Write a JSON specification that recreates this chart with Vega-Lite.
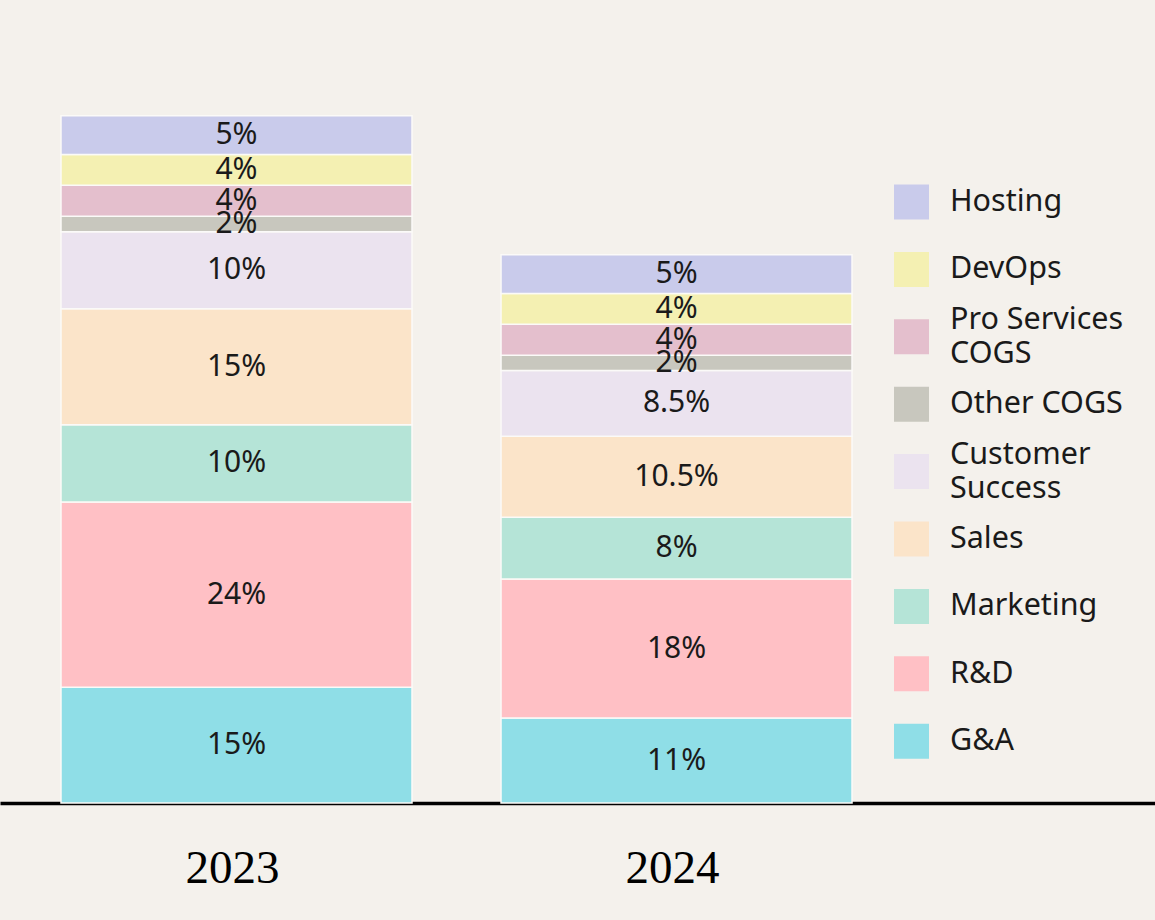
{
  "$schema": "https://vega.github.io/schema/vega-lite/v6.json",
  "width": 1155,
  "height": 803,
  "padding": {"left": 0, "top": 0, "right": 0, "bottom": 117},
  "autosize": {"type": "none"},
  "background": "#f4f1ec",
  "config": {"view": {"stroke": null}},
  "data": {"values": [
    {"year": "2023", "category": "G&A", "value": 0.15, "pos": 1},
    {"year": "2023", "category": "R&D", "value": 0.24, "pos": 2},
    {"year": "2023", "category": "Marketing", "value": 0.10, "pos": 3},
    {"year": "2023", "category": "Sales", "value": 0.15, "pos": 4},
    {"year": "2023", "category": "Customer Success", "value": 0.10, "pos": 5},
    {"year": "2023", "category": "Other COGS", "value": 0.02, "pos": 6},
    {"year": "2023", "category": "Pro Services COGS", "value": 0.04, "pos": 7},
    {"year": "2023", "category": "DevOps", "value": 0.04, "pos": 8},
    {"year": "2023", "category": "Hosting", "value": 0.05, "pos": 9},
    {"year": "2024", "category": "G&A", "value": 0.11, "pos": 1},
    {"year": "2024", "category": "R&D", "value": 0.18, "pos": 2},
    {"year": "2024", "category": "Marketing", "value": 0.08, "pos": 3},
    {"year": "2024", "category": "Sales", "value": 0.105, "pos": 4},
    {"year": "2024", "category": "Customer Success", "value": 0.085, "pos": 5},
    {"year": "2024", "category": "Other COGS", "value": 0.02, "pos": 6},
    {"year": "2024", "category": "Pro Services COGS", "value": 0.04, "pos": 7},
    {"year": "2024", "category": "DevOps", "value": 0.04, "pos": 8},
    {"year": "2024", "category": "Hosting", "value": 0.05, "pos": 9}
  ]},
  "encoding": {
    "x": {
      "field": "year", "type": "nominal", "title": null,
      "scale": {"paddingInner": 0.2023, "paddingOuter": 0.4136, "align": 0.1676},
      "axis": {
        "orient": "bottom", "ticks": false, "grid": false,
        "domainColor": "#000000", "domainWidth": 3.5,
        "labelFont": "Liberation Serif", "labelFontSize": 47, "labelColor": "#000000",
        "labelAngle": 0, "labelPadding": 42, "labelOffset": -4
      }
    },
    "y": {
      "field": "value", "type": "quantitative", "stack": "zero",
      "scale": {"domain": [0, 1.04], "nice": false, "zero": true},
      "axis": null
    },
    "order": {"field": "pos", "sort": "ascending"}
  },
  "layer": [
    {
      "mark": {"type": "bar", "stroke": "#fbfaf8", "strokeWidth": 1.5},
      "encoding": {
        "color": {
          "field": "category", "type": "nominal", "title": null,
          "scale": {
            "domain": ["Hosting", "DevOps", "Pro Services COGS", "Other COGS", "Customer Success", "Sales", "Marketing", "R&D", "G&A"],
            "range": ["#c9cbeb", "#f4f0b2", "#e4bfcd", "#c8c7be", "#ebe3ef", "#fbe4c9", "#b5e4d7", "#ffc0c5", "#8fdee7"]
          },
          "legend": {
            "orient": "none", "legendX": 894, "legendY": 184.5,
            "symbolType": "square", "symbolSize": 1225, "symbolStrokeWidth": 0, "symbolOpacity": 1,
            "labelFont": "Noto Sans", "labelFontSize": 30.5, "labelColor": "#1a1a1a",
            "labelOffset": 21, "rowPadding": 2.4, "labelLimit": 400, "gridAlign": "all",
            "labelExpr": "datum.label == 'Pro Services COGS' ? ['Pro Services', 'COGS'] : datum.label == 'Customer Success' ? ['Customer', 'Success'] : ['', datum.label]",
            "encoding": {
              "labels": {
                "dy": {"value": -17},
                "lineHeight": {"condition": {"test": "datum.value == 'Pro Services COGS' || datum.value == 'Customer Success'", "value": 34}, "value": 17}
              }
            }
          }
        }
      }
    },
    {
      "mark": {"type": "text", "font": "Noto Sans", "fontSize": 30, "color": "#1a1a1a", "baseline": "middle"},
      "encoding": {
        "y": {"field": "value", "type": "quantitative", "stack": "zero", "bandPosition": 0.5},
        "text": {"field": "value", "type": "quantitative", "format": ".1~%"}
      }
    }
  ]
}
